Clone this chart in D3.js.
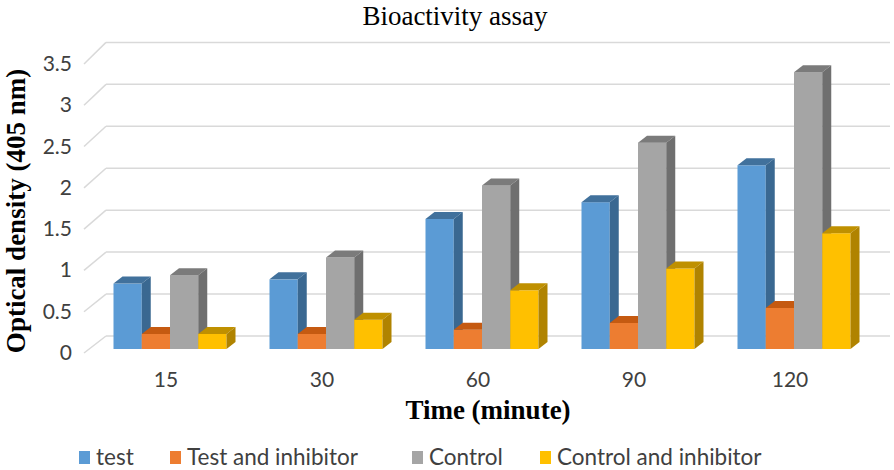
<!DOCTYPE html>
<html><head><meta charset="utf-8">
<script src="https://cdn.jsdelivr.net/npm/d3@7"></script>
<style>body{margin:0;background:#fff}svg{display:block}</style>
</head><body><svg id="c" width="894" height="470"></svg>
<script>
const categories = ["15","30","60","90","120"];
const seriesNames = ["test","Test and inhibitor","Control","Control and inhibitor"];
const testVals = [0.78,0.83,1.55,1.75,2.19];
const testInhVals = [0.18,0.18,0.23,0.31,0.49];
const controlVals = [0.88,1.09,1.95,2.46,3.30];
const controlInhVals = [0.18,0.35,0.70,0.96,1.38];
const yTicks = [0,0.5,1,1.5,2,2.5,3,3.5];
const tickLabels = ["0","0.5","1","1.5","2","2.5","3","3.5"];

const seriesVals = [testVals,testInhVals,controlVals,controlInhVals];
const front = ["#5B9BD5","#ED7D31","#A5A5A5","#FFC000"];
const topC = ["#41719C","#C55A11","#7B7B7B","#BF9000"];
const sideC = ["#3A6891","#AE5A21","#6F6F6F","#B08300"];

const svg = d3.select("#c");
const yBack = d3.scaleLinear().domain([0,3.5]).range([336,42.4]);
const yFront = d3.scaleLinear().domain([0,3.5]).range([353,64]);
const yBar = d3.scaleLinear().domain([0,3.5]).range([349,55.4]);
const x = d3.scaleBand().domain(categories).range([92,872]);
const xs = d3.scaleBand().domain(seriesNames).range([21.5, x.bandwidth()-21.5]);
const backL = 106, backR = 890, frontL = 84;
const dx = 9, dy = 7;
const sans = "Lato, 'Open Sans', sans-serif";
const serif = "'Liberation Serif', 'Times New Roman', serif";

// gridlines
const g = svg.append("g");
yTicks.forEach(t=>{
  g.append("line").attr("x1",backL).attr("x2",backR).attr("y1",yBack(t)).attr("y2",yBack(t))
    .attr("stroke","#d9d9d9").attr("stroke-width",1.5);
  g.append("line").attr("x1",frontL).attr("x2",backL).attr("y1",yFront(t)).attr("y2",yBack(t))
    .attr("stroke","#d9d9d9").attr("stroke-width",1.5);
});
// y tick labels
yTicks.forEach((t,i)=>{
  svg.append("text").attr("x",72).attr("y",yFront(t)+7).attr("text-anchor","end")
    .attr("font-family",sans).attr("font-size",21).attr("fill","#404040")
    .text(tickLabels[i]);
});
// bars
categories.forEach((c,ci)=>{
  seriesNames.forEach((s,si)=>{
    const v = seriesVals[si][ci];
    const x0 = x(c)+xs(s), w = xs.bandwidth();
    const y0 = yBar(0), y1 = yBar(v);
    const bg = svg.append("g");
    bg.append("rect").attr("x",x0).attr("y",y1).attr("width",w).attr("height",y0-y1).attr("fill",front[si]);
    bg.append("path").attr("d",`M${x0},${y1}L${x0+dx},${y1-dy}L${x0+w+dx},${y1-dy}L${x0+w},${y1}Z`).attr("fill",topC[si]);
    bg.append("path").attr("d",`M${x0+w},${y1}L${x0+w+dx},${y1-dy}L${x0+w+dx},${y0-dy}L${x0+w},${y0}Z`).attr("fill",sideC[si]);
  });
});
// x labels
categories.forEach(c=>{
  svg.append("text").attr("x",x(c)+x.bandwidth()/2-4).attr("y",387).attr("text-anchor","middle")
    .attr("font-family",sans).attr("font-size",21).attr("fill","#404040").text(c);
});
// titles
svg.append("text").attr("x",455).attr("y",25).attr("text-anchor","middle")
  .attr("font-family",serif).attr("font-size",27).attr("fill","#000").text("Bioactivity assay");
svg.append("text").attr("x",488).attr("y",419).attr("text-anchor","middle")
  .attr("font-family",serif).attr("font-weight","bold").attr("font-size",27).attr("fill","#000").text("Time (minute)");
svg.append("text").attr("transform","translate(25,211) rotate(-90)").attr("text-anchor","middle")
  .attr("font-family",serif).attr("font-weight","bold").attr("font-size",27).attr("fill","#000").text("Optical density (405 nm)");
// legend
const legX = [79,170,412,540];
seriesNames.forEach((s,i)=>{
  svg.append("rect").attr("x",legX[i]).attr("y",451).attr("width",11).attr("height",13).attr("fill",front[i]);
  svg.append("text").attr("x",legX[i]+17).attr("y",465).attr("font-family",sans)
    .attr("font-size",22.5).attr("fill","#404040").text(s);
});
</script></body></html>
